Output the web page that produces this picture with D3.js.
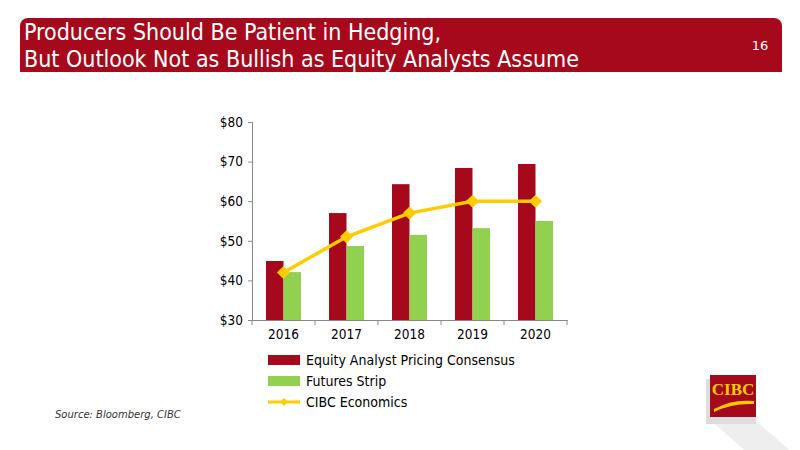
<!DOCTYPE html>
<html><head><meta charset="utf-8">
<script src="https://cdn.jsdelivr.net/npm/d3@7"></script>
<style>body{margin:0;background:#fff}svg{display:block}text{font-family:"DejaVu Sans",Verdana,sans-serif}</style>
</head><body><div id="chart"></div>
<script>
// data
var years = ["2016", "2017", "2018", "2019", "2020"];
var analystConsensus = [44.9, 57.0, 64.3, 68.4, 69.4];
var futuresStrip = [42.1, 48.7, 51.5, 53.2, 55.0];
var cibcEconomics = [42, 51, 57, 60, 60];
var yTicks = [30, 40, 50, 60, 70, 80];
var seriesNames = ["Equity Analyst Pricing Consensus", "Futures Strip", "CIBC Economics"];

var red = "#a6091c", green = "#92d050", gold = "#ffcc00";
var cond = "DejaVu Sans Condensed, sans-serif";

var svg = d3.select("#chart").append("svg").attr("width", 800).attr("height", 450);

// header banner
svg.append("rect").attr("x", 20).attr("y", 18).attr("width", 762).attr("height", 54)
  .attr("rx", 8).attr("fill", red);
svg.append("rect").attr("x", 20).attr("y", 40).attr("width", 762).attr("height", 32).attr("fill", red);
svg.append("text").attr("x", 24).attr("y", 40).attr("fill", "#fff").style("font-size", "23px")
  .style("font-family", cond).text("Producers Should Be Patient in Hedging,");
svg.append("text").attr("x", 24).attr("y", 67).attr("fill", "#fff").style("font-size", "23px")
  .style("font-family", cond).text("But Outlook Not as Bullish as Equity Analysts Assume");
svg.append("text").attr("x", 760).attr("y", 50).attr("fill", "#fff").attr("text-anchor", "middle")
  .style("font-size", "13px").text("16");

var margin = {top: 122, left: 252};
var width = 315, height = 198;
var g = svg.append("g").attr("transform", "translate(" + margin.left + "," + margin.top + ")");

var x = d3.scaleBand().domain(years).range([0, width]);
var y = d3.scaleLinear().domain([30, 80]).range([height, 0]);
var barW = 17.5;

g.selectAll(".bar-a").data(years).enter().append("rect")
  .attr("x", d => x(d) + x.bandwidth() / 2 - barW)
  .attr("y", (d, i) => y(analystConsensus[i]))
  .attr("width", barW)
  .attr("height", (d, i) => height - y(analystConsensus[i]))
  .attr("fill", red);
g.selectAll(".bar-f").data(years).enter().append("rect")
  .attr("x", d => x(d) + x.bandwidth() / 2)
  .attr("y", (d, i) => y(futuresStrip[i]))
  .attr("width", barW)
  .attr("height", (d, i) => height - y(futuresStrip[i]))
  .attr("fill", green);

var line = d3.line().x((d, i) => x(years[i]) + x.bandwidth() / 2).y(d => y(d));
g.append("path").datum(cibcEconomics).attr("d", line).attr("fill", "none")
  .attr("stroke", gold).attr("stroke-width", 3.5);
g.selectAll(".pt").data(cibcEconomics).enter().append("path")
  .attr("d", d3.symbol(d3.symbolDiamond2, 110)())
  .attr("transform", (d, i) => "translate(" + (x(years[i]) + x.bandwidth() / 2) + "," + y(d) + ")")
  .attr("fill", gold);

// axes
var yAxis = g.append("g").call(d3.axisLeft(y).tickValues(yTicks).tickSize(4).tickPadding(5).tickFormat(d => "$" + d));
var xAxis = g.append("g").attr("transform", "translate(0," + height + ")")
  .call(d3.axisBottom(x).tickSize(0).tickPadding(9));
xAxis.selectAll(".tick").append("line").attr("x1", -x.bandwidth() / 2).attr("x2", -x.bandwidth() / 2)
  .attr("y2", 5).attr("stroke", "#888");
xAxis.append("line").attr("x1", width).attr("x2", width).attr("y2", 5).attr("stroke", "#888");
[yAxis, xAxis].forEach(a => {
  a.select(".domain").attr("stroke", "#888");
  a.selectAll(".tick line").attr("stroke", "#888");
  a.selectAll("text").attr("fill", "#000").style("font-size", "13.5px").style("font-family", cond);
});

// legend
var lg = svg.append("g").attr("transform", "translate(268,360)");
seriesNames.forEach((n, i) => {
  var row = lg.append("g").attr("transform", "translate(0," + i * 21 + ")");
  if (i < 2) {
    row.append("rect").attr("x", 0).attr("y", -5).attr("width", 32).attr("height", 10).attr("fill", i == 0 ? red : green);
  } else {
    row.append("line").attr("x1", 0).attr("x2", 32).attr("stroke", gold).attr("stroke-width", 3);
    row.append("path").attr("d", d3.symbol(d3.symbolDiamond2, 40)()).attr("transform", "translate(16,0)").attr("fill", gold);
  }
  row.append("text").attr("x", 38).attr("y", 5).style("font-size", "14px")
    .style("font-family", cond).text(n);
});

svg.append("text").attr("x", 55).attr("y", 418).style("font-size", "10px").style("font-style", "italic")
  .attr("fill", "#333").text("Source: Bloomberg, CIBC");

// logo
var logo = svg.append("g").attr("transform", "translate(710,375)");
logo.append("polygon").attr("points", "0,45 45,45 85,80 40,80").attr("fill", "#eee");
logo.append("rect").attr("x", -4).attr("y", 4).attr("width", 50).attr("height", 45).attr("fill", "#ddd");
logo.append("rect").attr("x", 0).attr("y", 0).attr("width", 46).attr("height", 42).attr("fill", red);
logo.append("text").attr("x", 23).attr("y", 20).attr("text-anchor", "middle").attr("fill", "#fc0")
  .style("font-family", "Liberation Serif, serif").style("font-weight", "bold").style("font-size", "17px").text("CIBC");
logo.append("path").attr("d", "M4,34 Q22,24 44,26 L44,29 Q22,28 4,37Z").attr("fill", "#fc0");
</script></body></html>
